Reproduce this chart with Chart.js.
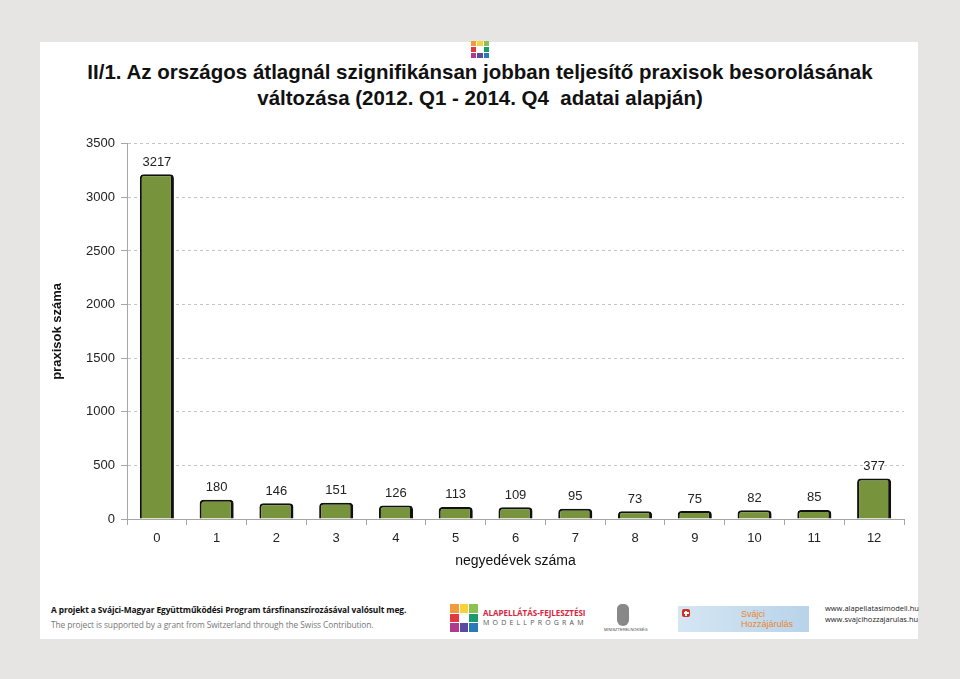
<!DOCTYPE html>
<html>
<head>
<meta charset="utf-8">
<script src="https://cdn.jsdelivr.net/npm/chart.js@4/dist/chart.umd.min.js"></script>
<style>
  html, body { margin: 0; padding: 0; }
  body { width: 960px; height: 679px; background: #e6e5e3; position: relative; overflow: hidden; font-family: "Liberation Sans", Arial, sans-serif; }
  #panel { position: absolute; left: 40px; top: 42px; width: 878px; height: 597px; background: #fff; }
  #title { position: absolute; left: 40px; top: 59px; width: 880px; text-align: center; font-weight: bold; font-size: 20.5px; line-height: 26px; color: #111; }
  #box { position: absolute; left: 40px; top: 130px; width: 880px; height: 440px; }
  .logo { position: absolute; display: grid; grid-template-columns: repeat(3, 1fr); gap: 1px; }
  .logo span { display: block; }
  #foot1 { position: absolute; left: 51px; top: 604px; font-size: 8.4px; font-weight: bold; color: #111; font-family: "Open Sans", sans-serif; letter-spacing: -0.1px; }
  #foot2 { position: absolute; left: 51px; top: 619px; font-size: 8.4px; color: #777; font-family: "Open Sans", sans-serif; letter-spacing: -0.1px; }
  #alap { position: absolute; left: 483px; top: 607px; font-size: 8px; font-weight: bold; color: #d7263d; font-family: "Open Sans", sans-serif; }
  #modell { position: absolute; left: 483px; top: 618px; font-size: 7px; color: #555; letter-spacing: 3.2px; font-family: "Open Sans", sans-serif; }
  #arms { position: absolute; left: 617px; top: 604px; width: 12px; height: 22px; background: #888; border-radius: 5px 5px 6px 6px; }
  #armsTxt { position: absolute; left: 604px; top: 627px; font-size: 4px; color: #444; }
  #swiss { position: absolute; left: 678px; top: 606px; width: 131px; height: 26px; background: linear-gradient(90deg, #d5e6f3, #b8d3ea); }
  #swiss .cross { position: absolute; left: 4px; top: 3px; width: 8px; height: 8px; background: #d52b1e; border-radius: 2px; }
  #swiss .cross::before { content: ""; position: absolute; left: 3px; top: 1.5px; width: 2px; height: 5px; background: #fff; }
  #swiss .cross::after { content: ""; position: absolute; left: 1.5px; top: 3px; width: 5px; height: 2px; background: #fff; }
  #swiss .t { position: absolute; left: 63px; top: 3px; font-size: 9px; line-height: 10px; color: #e8872a; }
  #urls { position: absolute; left: 825px; top: 603px; font-size: 7.5px; line-height: 11px; color: #222; font-family: "Open Sans", sans-serif; }
</style>
</head>
<body>
<div id="panel"></div>
<div class="logo" style="left:471px; top:41px; width:18px; height:17px;">
  <span style="background:#f39a3c"></span><span style="background:#f6d33c"></span><span style="background:#8cc152"></span>
  <span style="background:#e03a3e"></span><span style="background:#fff"></span><span style="background:#1d9a6c"></span>
  <span style="background:#b03a8c"></span><span style="background:#5a4aa0"></span><span style="background:#2a7ab8"></span>
</div>
<div id="title">II/1. Az országos átlagnál szignifikánsan jobban teljesítő praxisok besorolásának<br>változása (2012. Q1 - 2014. Q4&nbsp; adatai alapján)</div>
<div id="box"><canvas id="chart"></canvas></div>

<div id="foot1">A projekt a Svájci-Magyar Együttműködési Program társfinanszírozásával valósult meg.</div>
<div id="foot2">The project is supported by a grant from Switzerland through the Swiss Contribution.</div>
<div class="logo" style="left:450px; top:604px; width:28px; height:28px;">
  <span style="background:#f39a3c"></span><span style="background:#f6d33c"></span><span style="background:#8cc152"></span>
  <span style="background:#e03a3e"></span><span style="background:#fff"></span><span style="background:#1d9a6c"></span>
  <span style="background:#b03a8c"></span><span style="background:#5a4aa0"></span><span style="background:#2a7ab8"></span>
</div>
<div id="alap">ALAPELLÁTÁS-FEJLESZTÉSI</div>
<div id="modell">MODELLPROGRAM</div>
<div id="arms"></div>
<div id="armsTxt">MINISZTERELNÖKSÉG</div>
<div id="swiss"><div class="cross"></div><div class="t">Svájci<br>Hozzájárulás</div></div>
<div id="urls">www.alapellatasimodell.hu<br>www.svajcihozzajarulas.hu</div>

<script>
// adatok
const negyedevek = ['0', '1', '2', '3', '4', '5', '6', '7', '8', '9', '10', '11', '12'];
const praxisokSzama = [3217, 180, 146, 151, 126, 113, 109, 95, 73, 75, 82, 85, 377];
const yTicks = [0, 500, 1000, 1500, 2000, 2500, 3000, 3500];

// értékek kiírása az oszlopok fölé
const ertekCimkek = {
    id: 'ertekCimkek',
    afterDatasetsDraw(chart) {
        const ctx = chart.ctx;
        const meta = chart.getDatasetMeta(0);
        ctx.save();
        ctx.font = '13px "Liberation Sans", Arial, sans-serif';
        ctx.fillStyle = '#222';
        ctx.textAlign = 'center';
        ctx.textBaseline = 'middle';
        meta.data.forEach((bar, i) => {
            ctx.fillText(String(praxisokSzama[i]), bar.x, bar.y - 12);
        });
        ctx.restore();
    }
};

const ctx = document.getElementById('chart').getContext('2d');
new Chart(ctx, {
    type: 'bar',
    data: {
        labels: negyedevek,
        datasets: [{
            data: praxisokSzama,
            backgroundColor: '#77933c',
            borderColor: '#111',
            borderWidth: { top: 2, left: 2, right: 3, bottom: 0 },
            borderSkipped: 'bottom',
            borderRadius: { topLeft: 4, topRight: 4 },
            barPercentage: 0.57,
            categoryPercentage: 1
        }]
    },
    options: {
        responsive: true,
        maintainAspectRatio: false,
        animation: false,
        layout: { padding: { top: 9, right: 16, left: 0, bottom: 0 } },
        plugins: {
            legend: { display: false },
            tooltip: { enabled: false }
        },
        scales: {
            x: {
                afterFit: (scale) => { scale.height = 51; },
                grid: { drawOnChartArea: false, offset: true, color: '#a6a6a6', tickLength: 6 },
                border: { color: '#a6a6a6' },
                ticks: { color: '#222', padding: 6, font: { size: 13, family: '"Liberation Sans", Arial' } },
                title: {
                    display: true,
                    text: 'negyedévek száma',
                    color: '#111',
                    padding: { top: 0, bottom: 0 },
                    font: { size: 14, family: '"Liberation Sans", Arial' }
                }
            },
            y: {
                min: 0,
                max: 3500,
                afterFit: (scale) => { scale.width = 87; },
                afterBuildTicks: (scale) => { scale.ticks = yTicks.map(v => ({ value: v })); },
                grid: { color: '#c4c4c4', tickLength: 6, tickColor: '#a6a6a6' },
                border: { color: '#a6a6a6', dash: [3, 3] },
                ticks: {
                    color: '#222',
                    padding: 6,
                    font: { size: 13, family: '"Liberation Sans", Arial' },
                    callback: (value) => String(value)
                },
                title: {
                    display: true,
                    text: 'praxisok száma',
                    color: '#111',
                    padding: { top: 10, bottom: 0 },
                    font: { size: 13, weight: 'bold', family: '"Liberation Sans", Arial' }
                }
            }
        }
    },
    plugins: [ertekCimkek]
});
</script>
</body>
</html>
